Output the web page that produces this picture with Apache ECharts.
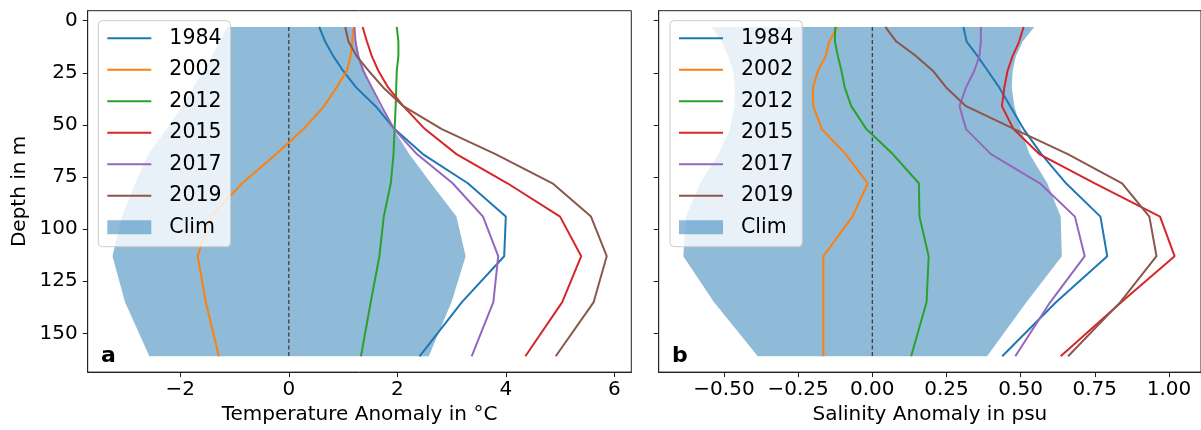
<!DOCTYPE html>
<html>
<head>
<meta charset="utf-8">
<script src="https://cdn.jsdelivr.net/npm/echarts@6/dist/echarts.min.js"></script>
<style>
  html, body { margin: 0; padding: 0; background: #fff; }
  #main { width: 1201px; height: 430px; }
</style>
</head>
<body>
<div id="main"></div>
<script>
// depth levels (m)
var depths = [3, 10, 17, 24, 32, 41, 52, 64, 78, 94, 113, 135, 161];

// temperature anomaly (deg C)
var t1984 = [0.56, 0.67, 0.82, 1.00, 1.24, 1.60, 1.95, 2.47, 3.30, 4.00, 3.97, 3.19, 2.41];
var t2002 = [1.19, 1.17, 1.14, 1.07, 0.88, 0.65, 0.27, -0.23, -0.86, -1.44, -1.68, -1.53, -1.29];
var t2012 = [1.99, 2.02, 2.02, 1.99, 1.98, 1.97, 1.95, 1.93, 1.88, 1.75, 1.67, 1.51, 1.33];
var t2015 = [1.36, 1.44, 1.53, 1.65, 1.83, 2.11, 2.51, 3.09, 4.03, 5.00, 5.39, 5.04, 4.36];
var t2017 = [1.21, 1.23, 1.28, 1.37, 1.53, 1.71, 1.94, 2.36, 3.02, 3.58, 3.86, 3.77, 3.37];
var t2019 = [1.04, 1.10, 1.25, 1.47, 1.74, 2.11, 2.82, 3.81, 4.86, 5.57, 5.86, 5.62, 4.92];
var climTLo = [-1.13, -1.27, -1.42, -1.58, -1.76, -1.97, -2.25, -2.59, -2.83, -3.08, -3.25, -3.02, -2.57];
var climTHi = [1.16, 1.24, 1.30, 1.40, 1.53, 1.68, 1.93, 2.22, 2.62, 3.09, 3.26, 3.00, 2.58];

// salinity anomaly (psu)
var s1984 = [0.307, 0.318, 0.355, 0.389, 0.428, 0.465, 0.51, 0.57, 0.653, 0.769, 0.792, 0.62, 0.438];
var s2002 = [-0.118, -0.145, -0.157, -0.183, -0.2, -0.199, -0.17, -0.09, -0.015, -0.067, -0.165, -0.165, -0.165];
var s2012 = [-0.125, -0.126, -0.116, -0.104, -0.093, -0.071, -0.02, 0.069, 0.157, 0.159, 0.19, 0.183, 0.131];
var s2015 = [0.51, 0.495, 0.473, 0.456, 0.445, 0.437, 0.476, 0.563, 0.75, 0.97, 1.019, 0.84, 0.635];
var s2017 = [0.366, 0.366, 0.361, 0.344, 0.316, 0.294, 0.316, 0.40, 0.565, 0.683, 0.716, 0.60, 0.482];
var s2019 = [0.044, 0.081, 0.148, 0.204, 0.249, 0.316, 0.479, 0.659, 0.842, 0.934, 0.958, 0.836, 0.66];
var climSLo = [-0.542, -0.508, -0.486, -0.469, -0.463, -0.465, -0.48, -0.519, -0.58, -0.628, -0.637, -0.534, -0.386];
var climSHi = [0.546, 0.507, 0.484, 0.473, 0.47, 0.479, 0.501, 0.53, 0.59, 0.635, 0.639, 0.52, 0.387];

var years = ['1984', '2002', '2012', '2015', '2017', '2019'];
var colors = ['#1f77b4', '#ff7f0e', '#2ca02c', '#d62728', '#9467bd', '#8c564b'];
var tempSeries = [t1984, t2002, t2012, t2015, t2017, t2019];
var salSeries = [s1984, s2002, s2012, s2015, s2017, s2019];

var tempTicks = [-2, 0, 2, 4, 6];
var salTicks = [-0.5, -0.25, 0, 0.25, 0.5, 0.75, 1.0];
var depthTicks = [0, 25, 50, 75, 100, 125, 150];

var FONT = 'DejaVu Sans';
var fillColor = 'rgba(31,119,180,0.5)';

function pairs(xs) {
    return xs.map(function (x, i) { return [x, depths[i]]; });
}
function minus(s) { return String(s).replace('-', '\u2212'); }

function climPolygon(lo, hi) {
    return function (params, api) {
        var pts = [];
        for (var i = 0; i < depths.length; i++) pts.push(api.coord([lo[i], depths[i]]));
        for (var j = depths.length - 1; j >= 0; j--) pts.push(api.coord([hi[j], depths[j]]));
        return { type: 'polygon', shape: { points: pts }, style: { fill: fillColor } };
    };
}

var series = [];
[[climTLo, climTHi, tempSeries, 0], [climSLo, climSHi, salSeries, 1]].forEach(function (p) {
    var idx = p[3];
    series.push({
        name: 'Clim', type: 'custom', xAxisIndex: idx, yAxisIndex: idx,
        data: [[0, 0]], itemStyle: { color: fillColor },
        renderItem: climPolygon(p[0], p[1]), z: 1, silent: true
    });
    series.push({
        name: 'zero', type: 'line', xAxisIndex: idx, yAxisIndex: idx,
        data: [[0, depths[0]], [0, depths[depths.length - 1]]],
        symbol: 'none', z: 2, silent: true,
        lineStyle: { color: '#333', width: 1.2, type: [4, 2.5] }
    });
    p[2].forEach(function (vals, k) {
        series.push({
            name: years[k], type: 'line', xAxisIndex: idx, yAxisIndex: idx,
            data: pairs(vals), symbol: 'none', z: 3,
            lineStyle: { color: colors[k], width: 2 }, itemStyle: { color: colors[k] }
        });
    });
});

function legendAt(left) {
    // year entries: line only (hide the marker), Clim: filled rect
    var items = years.map(function (y) { return { name: y, itemStyle: { opacity: 0 } }; });
    items.push({ name: 'Clim', icon: 'rect', itemStyle: { opacity: 1 } });
    return {
        orient: 'vertical', left: left, top: 20.7,
        data: items,
        itemWidth: 44, itemHeight: 14, itemGap: 10.5,
        padding: [7, 9, 9, 8],
        backgroundColor: 'rgba(255,255,255,0.8)',
        borderColor: '#cccccc', borderWidth: 1, borderRadius: 4,
        formatter: function (n) { return '  ' + n; },
        textStyle: { fontFamily: FONT, fontSize: 20.5, color: '#000', lineHeight: 21 },
        selectedMode: false
    };
}

var axisLineStyle = { show: true, onZero: false, lineStyle: { color: '#222', width: 1 } };
var tickStyle = { show: true, inside: false, length: 5, lineStyle: { color: '#222' } };

function xAxisDef(idx, min, max, ticks, name, fmt) {
    return {
        type: 'value', gridIndex: idx, min: min, max: max,
        name: name, nameLocation: 'middle', nameGap: 32,
        nameTextStyle: { fontFamily: FONT, fontSize: 20, color: '#000' },
        axisLine: axisLineStyle,
        axisTick: Object.assign({ customValues: ticks }, tickStyle),
        axisLabel: { customValues: ticks, fontFamily: FONT, fontSize: 20, color: '#000', margin: 8, formatter: fmt },
        splitLine: { show: false }
    };
}
function yAxisDef(idx, showLabels) {
    return {
        type: 'value', gridIndex: idx, inverse: true, min: -4.8, max: 168.6,
        name: showLabels ? 'Depth in m' : '', nameLocation: 'middle', nameGap: 58,
        nameTextStyle: { fontFamily: FONT, fontSize: 20, color: '#000' },
        axisLine: axisLineStyle,
        axisTick: Object.assign({ customValues: depthTicks }, tickStyle),
        axisLabel: { show: showLabels, customValues: depthTicks, fontFamily: FONT, fontSize: 20, color: '#000', margin: 10 },
        splitLine: { show: false }
    };
}

var option = {
    animation: false,
    backgroundColor: '#fff',
    grid: [
        { left: 87.7, top: 10.7, width: 543.6, height: 362, show: true, borderColor: '#222', borderWidth: 1, backgroundColor: 'transparent' },
        { left: 658.7, top: 10.7, width: 543.6, height: 362, show: true, borderColor: '#222', borderWidth: 1, backgroundColor: 'transparent' }
    ],
    xAxis: [
        xAxisDef(0, -3.707, 6.313, tempTicks, 'Temperature Anomaly in \u00b0C', function (v) { return minus(Math.round(v)); }),
        xAxisDef(1, -0.720, 1.108, salTicks, 'Salinity Anomaly in psu', function (v) { return minus(v.toFixed(2)); })
    ],
    yAxis: [yAxisDef(0, true), yAxisDef(1, false)],
    legend: [legendAt(98.3), legendAt(670)],
    graphic: [
        { type: 'text', left: 101, top: 345, style: { text: 'a', font: 'bold 22px "DejaVu Sans"', fill: '#000' } },
        { type: 'text', left: 672, top: 345, style: { text: 'b', font: 'bold 22px "DejaVu Sans"', fill: '#000' } }
    ],
    series: series
};

var myChart = echarts.init(document.getElementById('main'));
myChart.setOption(option);
</script>
</body>
</html>
